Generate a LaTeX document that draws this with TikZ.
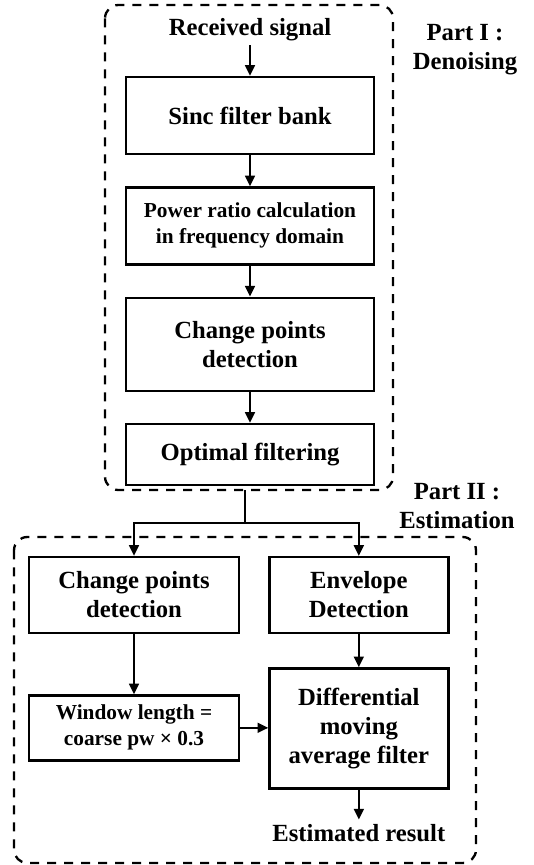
\documentclass[tikz,border=0pt]{standalone}
\usepackage{fontspec}
\setmainfont{Liberation Serif}
\usetikzlibrary{positioning,arrows.meta}

\begin{document}
\begin{tikzpicture}[
    node distance=23.25pt,
    every node/.style={font=\bfseries\fontsize{18.5}{21.75}\selectfont},
    box/.style={draw, line width=1.75pt, minimum width=186pt, minimum height=57.75pt, align=center, inner sep=2pt},
    smallbox/.style={font=\bfseries\fontsize{16}{19.5}\selectfont},
    partbox/.style={line width=1.75pt, dash pattern=on 6.75pt off 6pt, rounded corners=10pt},
    parttext/.style={align=center},
    link/.style={line width=1.3pt},
    arr/.style={link, -{Triangle[length=8pt,width=7.5pt]}}
]
\useasboundingbox (0,0) rectangle (399.75pt,-648.75pt);

% 第一部分：去噪
\node[anchor=base] (signal) at (187.5pt,-26.25pt) {Received signal};
\node[box] (sinc) at (187.5pt,-86.625pt) {Sinc filter bank};
\node[box, smallbox, below=of sinc] (power) {Power ratio calculation\\in frequency domain};
\node[box, minimum height=69.75pt, below=of power] (change) {Change points\\detection};
\node[box, minimum height=45.75pt, below=of change] (optfilt) {Optimal filtering};

\draw[partbox] (78.75pt,-3.75pt) rectangle (294.75pt,-367.5pt);
\node[parttext] (part1) at (348.75pt,-37.5pt) {Part I :\\Denoising};

% 第一部分的连接线
\draw[arr] (signal) -- (sinc);
\draw[arr] (sinc) -- (power);
\draw[arr] (power) -- (change);
\draw[arr] (change) -- (optfilt);

% 第二部分：估计
\node[box, minimum width=157.5pt, minimum height=57pt] (cpd) at (100.5pt,-446.25pt) {Change points\\detection};
\node[box, minimum width=134.25pt, minimum height=57pt, right=21pt of cpd] (envelope) {Envelope\\Detection};
\node[box, smallbox, minimum width=157.5pt, minimum height=48.75pt, below=45pt of cpd] (window) {Window length =\\coarse pw × 0.3};
\node[box, minimum width=134.25pt, minimum height=90pt, below=24.75pt of envelope] (dmaf) {Differential\\moving\\average filter};
\node[below=22.5pt of dmaf] (result) {Estimated result};

\draw[partbox] (10.5pt,-402.75pt) rectangle (357pt,-647.25pt);
\node[parttext] (part2) at (342.75pt,-379.5pt) {Part II :\\Estimation};

% 分叉
\coordinate (split) at (183.75pt,-367.5pt);
\coordinate (fork) at (183.75pt,-392.25pt);
\draw[link] (split) -- (fork);
\draw[arr] (fork) -| (cpd);
\draw[arr] (fork) -| (envelope);

% 第二部分的连接线
\draw[arr] (cpd) -- (window);
\draw[arr] (envelope) -- (dmaf);
\draw[arr] (window.east) -- (window.east -| dmaf.west);
\draw[arr] (dmaf) -- (result);

\end{tikzpicture}
\end{document}
